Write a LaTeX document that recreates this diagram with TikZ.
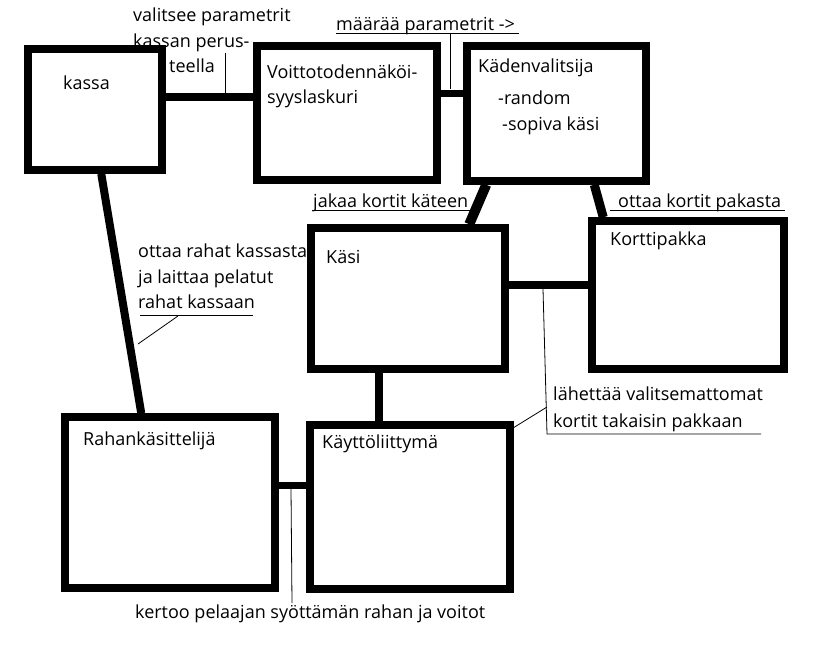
\documentclass[tikz,border=0pt]{standalone}
\usepackage{fontspec}
\setmainfont{Open Sans}
\begin{document}
\begin{tikzpicture}[x=1pt,y=-1pt,
  box/.style={draw=black,line width=7.5pt,inner sep=0pt,fill=none},
  conn/.style={draw=black,line width=8pt},
  leader/.style={draw=black,line width=0.8pt},
  lbl/.style={anchor=base west,inner sep=0pt,font=\fontsize{18}{25}\selectfont}]
\useasboundingbox (0,0) rectangle (816,664);
% boxes
\node[box,minimum width=134pt,minimum height=121pt] (kassa) at (95,109.5) {};
\node[box,minimum width=180pt,minimum height=134pt] (voitto) at (347,113) {};
\node[box,minimum width=179pt,minimum height=135pt] (kaden) at (556.5,113.5) {};
\node[box,minimum width=194pt,minimum height=141pt] (kasi) at (408,298.5) {};
\node[box,minimum width=192pt,minimum height=148pt] (kortti) at (688,295) {};
\node[box,minimum width=200pt,minimum height=164pt] (kaytto) at (410,507) {};
\node[box,minimum width=210pt,minimum height=171pt] (raha) at (170,502.5) {};
% connectors
\draw[conn] (kassa.east |- 0,97) -- (voitto.west |- 0,97);
\draw[conn,line width=7pt,line cap=round] (voitto.east |- 0,93) -- (kaden.west |- 0,93);
\draw[conn] ([xshift=77pt]kassa.south west) -- ([xshift=80pt]raha.north west);
\draw[conn,line width=10pt] ([xshift=23pt]kaden.south west) -- ([xshift=162pt]kasi.north west);
\draw[conn,line width=9pt] ([xshift=131pt]kaden.south west) -- ([xshift=15pt]kortti.north west);
\draw[conn] (kasi.east |- 0,285) -- (kortti.west |- 0,285);
\draw[conn] (kasi.south -| 379,0) -- (kaytto.north -| 379,0);
\draw[conn,line width=7pt,line cap=round] (raha.east |- 0,485) -- (kaytto.west |- 0,485);
% leader coordinates
\coordinate (a1) at (225,53); \coordinate (a2) at (225,93);
\coordinate (b1) at (336,33); \coordinate (b2) at (519,33);
\coordinate (b3) at (450,33); \coordinate (b4) at (450,89);
\coordinate (c1) at (313,210); \coordinate (c2) at (472,210);
\coordinate (d1) at (610,210); \coordinate (d2) at (785,210);
\coordinate (e1) at (140,315); \coordinate (e2) at (253,315);
\coordinate (e3) at (178,316); \coordinate (e4) at (138,344);
\coordinate (f1) at (543,289); \coordinate (f2) at (547,434);
\coordinate (f3) at (761,434); \coordinate (f4) at (547,407);
\coordinate (f5) at (513,428);
\coordinate (g1) at (291,489); \coordinate (g2) at (292,603);
\draw[leader] (a1) -- (a2);
\draw[leader] (b1) -- (b2);
\draw[leader] (b3) -- (b4);
\draw[leader] (c1) -- (c2);
\draw[leader] (d1) -- (d2);
\draw[leader] (e1) -- (e2);
\draw[leader] (e3) -- (e4);
\draw[leader] (f1) -- (f2) -- (f3);
\draw[leader] (f4) -- (f5);
\draw[leader] (g1) -- (g2);
% box labels
\node[lbl] (tkassa) at (63,89) {kassa};
\node[lbl] (tvo1) at (267,78) {Voittotodennäköi-};
\node[lbl] (tvo2) at (267,103) {syyslaskuri};
\node[lbl] (tka1) at (478,72) {Kädenvalitsija};
\node[lbl] (tka2) at (498,104) {-random};
\node[lbl] (tka3) at (502,130) {-sopiva käsi};
\node[lbl] (tkasi) at (326,263) {Käsi};
\node[lbl] (tkortti) at (610,245) {Korttipakka};
\node[lbl] (tkaytto) at (322,448) {Käyttöliittymä};
\node[lbl] (traha) at (83,445) {Rahankäsittelijä};
% connector labels
\node[lbl] (v1) at (133,21) {valitsee parametrit};
\node[lbl] (v2) at (133,47) {kassan perus-};
\node[lbl] (v3) at (169,72) {teella};
\node[lbl] (m1) at (336,30) {määrää parametrit ->};
\node[lbl] (j1) at (313,207) {jakaa kortit käteen};
\node[lbl] (o1) at (618,207) {ottaa kortit pakasta};
\node[lbl] (r1) at (138,257) {ottaa rahat kassasta};
\node[lbl] (r2) at (138,283) {ja laittaa pelatut};
\node[lbl] (r3) at (138,308) {rahat kassaan};
\node[lbl] (l1) at (553,400) {lähettää valitsemattomat};
\node[lbl] (l2) at (553,427) {kortit takaisin pakkaan};
\node[lbl] (k1) at (135,618) {kertoo pelaajan syöttämän rahan ja voitot};
\end{tikzpicture}
\end{document}
